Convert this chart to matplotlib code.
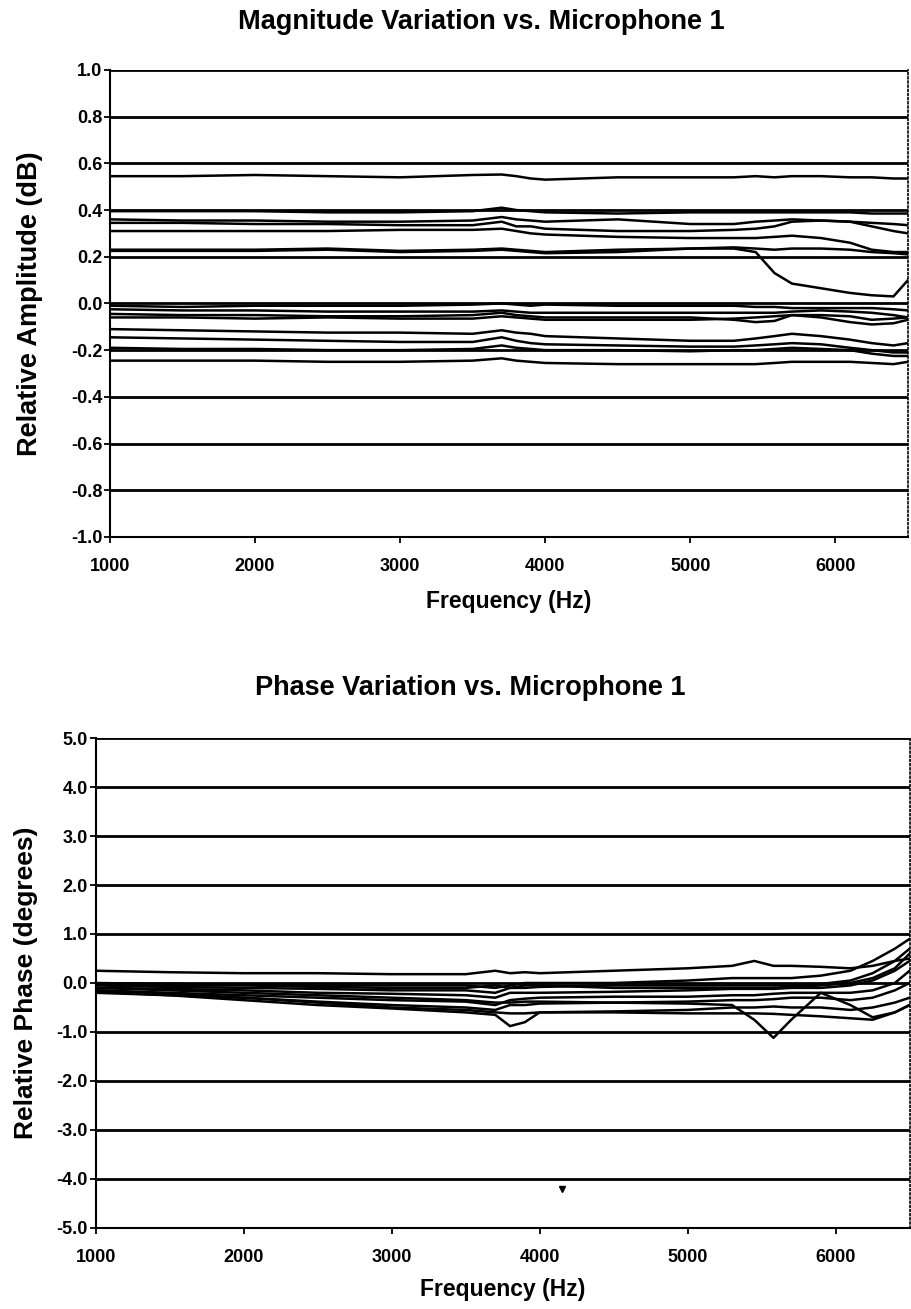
import numpy as np
import matplotlib
matplotlib.use("Agg")
import matplotlib.pyplot as plt

plt.rcParams['font.family'] = ['Liberation Sans', 'DejaVu Sans']
plt.rcParams['font.weight'] = 'bold'

# sample frequencies (Hz) shared by every trace
freq = [1000, 1500, 2000, 2500, 3000, 3500, 3700, 3800, 3900, 4000, 4500,
        5000, 5300, 5450, 5580, 5700, 5900, 6100, 6250, 6400, 6500]

# relative amplitude traces (dB)
mag_1 = [0.545, 0.545, 0.55, 0.545, 0.54, 0.55, 0.552, 0.545, 0.535, 0.53, 0.54,
         0.54, 0.54, 0.545, 0.54, 0.545, 0.545, 0.54, 0.54, 0.535, 0.535]
mag_2 = [0.395, 0.395, 0.395, 0.39, 0.39, 0.395, 0.41, 0.40, 0.395, 0.39, 0.385,
         0.39, 0.39, 0.39, 0.39, 0.39, 0.39, 0.39, 0.385, 0.385, 0.385]
mag_3 = [0.36, 0.355, 0.355, 0.35, 0.35, 0.355, 0.37, 0.36, 0.355, 0.35, 0.36,
         0.34, 0.34, 0.35, 0.355, 0.36, 0.355, 0.35, 0.345, 0.34, 0.335]
mag_4 = [0.345, 0.345, 0.34, 0.34, 0.335, 0.335, 0.35, 0.33, 0.33, 0.32, 0.31,
         0.31, 0.315, 0.32, 0.33, 0.35, 0.355, 0.35, 0.33, 0.31, 0.30]
mag_5 = [0.31, 0.31, 0.31, 0.31, 0.315, 0.315, 0.32, 0.31, 0.30, 0.295, 0.285,
         0.28, 0.28, 0.28, 0.285, 0.29, 0.28, 0.26, 0.23, 0.22, 0.22]
mag_6 = [0.23, 0.23, 0.23, 0.235, 0.225, 0.23, 0.235, 0.23, 0.225, 0.22, 0.23,
         0.235, 0.235, 0.22, 0.13, 0.085, 0.065, 0.045, 0.035, 0.03, 0.10]
mag_7 = [0.225, 0.225, 0.225, 0.23, 0.22, 0.225, 0.23, 0.225, 0.22, 0.215, 0.22,
         0.235, 0.24, 0.235, 0.23, 0.235, 0.235, 0.23, 0.22, 0.215, 0.21]
mag_8 = [-0.01, -0.015, -0.01, -0.01, -0.01, -0.005, 0.0, -0.005, -0.01, -0.005, -0.01,
         -0.01, -0.01, -0.015, -0.015, -0.02, -0.02, -0.02, -0.02, -0.025, -0.03]
mag_9 = [-0.025, -0.03, -0.03, -0.035, -0.035, -0.035, -0.03, -0.035, -0.04, -0.04, -0.04,
         -0.04, -0.04, -0.04, -0.04, -0.035, -0.03, -0.035, -0.04, -0.05, -0.06]
mag_10 = [-0.045, -0.05, -0.05, -0.055, -0.055, -0.05, -0.04, -0.05, -0.055, -0.06, -0.06,
          -0.06, -0.07, -0.08, -0.075, -0.05, -0.05, -0.055, -0.07, -0.065, -0.06]
mag_11 = [-0.06, -0.06, -0.065, -0.06, -0.065, -0.065, -0.055, -0.06, -0.065, -0.07, -0.07,
          -0.07, -0.065, -0.06, -0.055, -0.05, -0.06, -0.08, -0.09, -0.085, -0.07]
mag_12 = [-0.11, -0.115, -0.12, -0.125, -0.125, -0.13, -0.115, -0.125, -0.13, -0.14, -0.15,
          -0.16, -0.16, -0.15, -0.14, -0.13, -0.14, -0.155, -0.17, -0.18, -0.17]
mag_13 = [-0.145, -0.15, -0.155, -0.16, -0.165, -0.165, -0.145, -0.16, -0.17, -0.175, -0.18,
          -0.185, -0.185, -0.18, -0.175, -0.17, -0.175, -0.19, -0.20, -0.21, -0.21]
mag_14 = [-0.19, -0.195, -0.195, -0.20, -0.20, -0.195, -0.18, -0.19, -0.195, -0.20, -0.20,
          -0.205, -0.20, -0.20, -0.195, -0.19, -0.195, -0.20, -0.215, -0.225, -0.225]
mag_15 = [-0.245, -0.245, -0.245, -0.25, -0.25, -0.245, -0.235, -0.245, -0.25, -0.255, -0.26,
          -0.26, -0.26, -0.26, -0.255, -0.25, -0.25, -0.25, -0.255, -0.26, -0.25]

# relative phase traces (degrees)
ph_1 = [0.25, 0.22, 0.20, 0.20, 0.18, 0.18, 0.25, 0.20, 0.22, 0.20, 0.25,
        0.30, 0.35, 0.45, 0.35, 0.35, 0.33, 0.30, 0.35, 0.45, 0.50]
ph_2 = [0.0, -0.02, -0.03, -0.05, -0.05, -0.05, -0.10, -0.05, 0.0, 0.0, 0.0,
        0.05, 0.10, 0.10, 0.10, 0.10, 0.15, 0.25, 0.45, 0.70, 0.90]
ph_3 = [-0.05, -0.08, -0.10, -0.12, -0.15, -0.15, -0.20, -0.10, -0.10, -0.08, -0.05,
        -0.05, -0.05, -0.05, -0.05, -0.05, -0.02, 0.05, 0.20, 0.45, 0.70]
ph_4 = [-0.10, -0.12, -0.15, -0.20, -0.22, -0.25, -0.30, -0.20, -0.20, -0.20, -0.18,
        -0.15, -0.12, -0.12, -0.12, -0.10, -0.10, -0.05, 0.05, 0.25, 0.45]
ph_5 = [-0.15, -0.20, -0.25, -0.30, -0.35, -0.38, -0.45, -0.35, -0.32, -0.30, -0.28,
        -0.28, -0.25, -0.25, -0.22, -0.20, -0.20, -0.20, -0.15, 0.0, 0.25]
ph_6 = [-0.20, -0.25, -0.30, -0.38, -0.45, -0.50, -0.55, -0.45, -0.45, -0.42, -0.40,
        -0.38, -0.35, -0.35, -0.33, -0.30, -0.30, -0.35, -0.30, -0.15, 0.0]
ph_7 = [-0.18, -0.25, -0.35, -0.45, -0.52, -0.60, -0.65, -0.88, -0.80, -0.60, -0.58,
        -0.55, -0.50, -0.50, -0.48, -0.50, -0.50, -0.55, -0.50, -0.40, -0.30]
ph_8 = [-0.10, -0.15, -0.20, -0.25, -0.30, -0.35, -0.40, -0.40, -0.38, -0.38, -0.40,
        -0.42, -0.45, -0.75, -1.12, -0.75, -0.20, -0.45, -0.70, -0.60, -0.45]
ph_9 = [-0.15, -0.22, -0.30, -0.40, -0.50, -0.55, -0.60, -0.62, -0.62, -0.60, -0.60,
        -0.62, -0.62, -0.62, -0.63, -0.65, -0.68, -0.72, -0.75, -0.60, -0.45]
ph_10 = [-0.02, -0.05, -0.05, -0.08, -0.10, -0.10, -0.05, -0.10, -0.05, -0.05, -0.10,
         -0.10, -0.10, -0.10, -0.10, -0.08, -0.05, 0.0, 0.10, 0.30, 0.60]
stray_freq = [4150]
stray_phase = [-4.2]

mag_traces = [mag_1, mag_2, mag_3, mag_4, mag_5, mag_6, mag_7, mag_8,
              mag_9, mag_10, mag_11, mag_12, mag_13, mag_14, mag_15]
ph_traces = [ph_1, ph_2, ph_3, ph_4, ph_5, ph_6, ph_7, ph_8, ph_9, ph_10]

x_ticks = [1000, 2000, 3000, 4000, 5000, 6000]
mag_ticks = [1.0, 0.8, 0.6, 0.4, 0.2, 0.0, -0.2, -0.4, -0.6, -0.8, -1.0]
ph_ticks = [5.0, 4.0, 3.0, 2.0, 1.0, 0.0, -1.0, -2.0, -3.0, -4.0, -5.0]


def style_axes(ax, yticks, ylim):
    ax.set_xlim(1000, 6500)
    ax.set_ylim(*ylim)
    ax.set_xticks(x_ticks)
    ax.set_yticks(yticks)
    ax.set_yticklabels([f"{t:.1f}" for t in yticks])
    for t in yticks:
        ax.axhline(t, color='black', lw=2.0, zorder=1)
    ax.spines['top'].set_visible(False)
    ax.spines['right'].set_linestyle((0, (1, 1.5)))
    ax.spines['right'].set_linewidth(1.2)
    ax.spines['left'].set_linewidth(1.5)
    ax.spines['bottom'].set_linewidth(1.5)
    ax.tick_params(axis='both', direction='out', length=4, width=1.3,
                   labelsize=13, colors='black')
    ax.tick_params(axis='x', pad=11)
    ax.tick_params(axis='y', pad=1.5)
    for lab in ax.get_xticklabels() + ax.get_yticklabels():
        lab.set_fontweight('bold')


fig = plt.figure(figsize=(9.11, 13.09), dpi=100)

ax1 = fig.add_axes([0.1207, 0.5898, 0.876, 0.3568])
for tr in mag_traces:
    ax1.plot(freq, tr, color='black', lw=1.8, zorder=2)
style_axes(ax1, mag_ticks, (-1.0, 1.0))
ax1.set_xlabel('Frequency (Hz)', fontsize=16.5, fontweight='bold')
ax1.xaxis.set_label_coords(0.5, -0.113)
ax1.set_ylabel('Relative Amplitude (dB)', fontsize=19.5, fontweight='bold')
ax1.yaxis.set_label_coords(-0.084, 0.5)
fig.text(0.528, 0.983, 'Magnitude Variation vs. Microphone 1', ha='center',
         va='center', fontsize=19.5, fontweight='bold')

ax2 = fig.add_axes([0.105, 0.0619, 0.8935, 0.3743])
for tr in ph_traces:
    ax2.plot(freq, tr, color='black', lw=1.8, zorder=2)
ax2.plot(stray_freq, stray_phase, 'v', color='black', ms=5, zorder=3)
style_axes(ax2, ph_ticks, (-5.0, 5.0))
ax2.set_xlabel('Frequency (Hz)', fontsize=16.5, fontweight='bold')
ax2.xaxis.set_label_coords(0.5, -0.102)
ax2.set_ylabel('Relative Phase (degrees)', fontsize=19, fontweight='bold')
ax2.yaxis.set_label_coords(-0.071, 0.5)
fig.text(0.516, 0.4744, 'Phase Variation vs. Microphone 1', ha='center',
         va='center', fontsize=19.5, fontweight='bold')

fig.savefig('out.png', dpi=100, facecolor='white')
